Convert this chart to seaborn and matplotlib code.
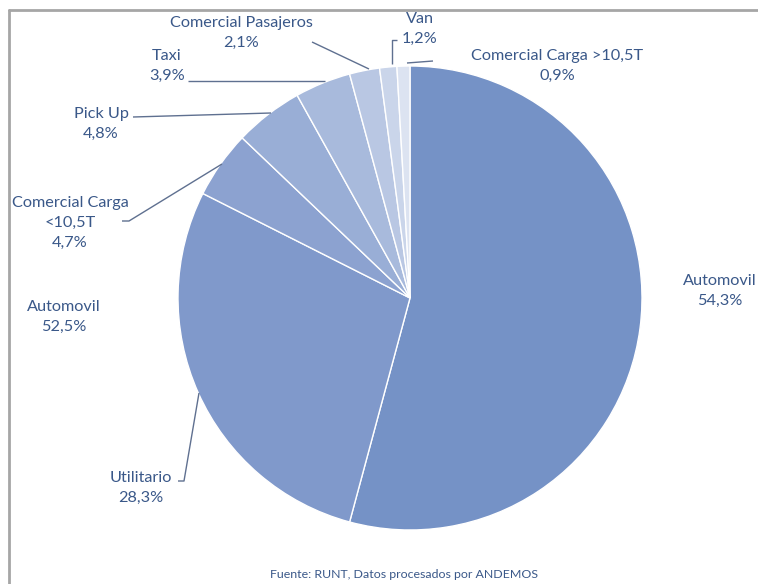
import matplotlib
matplotlib.use("Agg")
import matplotlib.pyplot as plt
import seaborn as sns

sns.set_theme(style="white")
plt.rcParams['font.family'] = ['Lato', 'DejaVu Sans']

# Data (clockwise from top)
categories = ["Automovil", "Utilitario", "Comercial Carga\n<10,5T", "Pick Up", "Taxi",
              "Comercial Pasajeros", "Van", "Comercial Carga >10,5T"]
shares = [54.3, 28.3, 4.7, 4.8, 3.9, 2.1, 1.2, 0.9]
share_labels = ["54,3%", "28,3%", "4,7%", "4,8%", "3,9%", "2,1%", "1,2%", "0,9%"]
colors = ["#7592C6", "#8099CB", "#8CA2D0", "#99AED6", "#A8BADC", "#B9C7E3", "#CAD5EA", "#DCE3F1"]
extra_label = "Automovil\n52,5%"
source_text = "Fuente: RUNT, Datos procesados por ANDEMOS"

W, H = 758, 584
fig = plt.figure(figsize=(W / 100, H / 100), dpi=100)
ax = fig.add_axes([0, 0, 1, 1])
ax.set_xlim(0, W)
ax.set_ylim(0, H)
ax.axis("off")

def Y(y):
    return H - y

ax.pie(shares, colors=colors, startangle=90, counterclock=False,
       center=(410, Y(298)), radius=232,
       wedgeprops=dict(edgecolor="white", linewidth=1.0), frame=False)
ax.set_xlim(0, W)
ax.set_ylim(0, H)
ax.set_aspect("auto")

tc = "#3A5889"
lc = "#5F7090"
fs = 11.7
ls = 1.55

# label positions (pixel coords, centre of text block)
pos = {
    0: (720, 291),
    1: (141, 488),
    2: (70, 223),
    3: (101, 124),
    4: (167, 66),
    5: (241, 33),
    6: (420, 29),
    7: (557, 66),
}
for i, (x, y) in pos.items():
    ax.text(x, Y(y), f"{categories[i]}\n{share_labels[i]}", ha="center", va="center",
            fontsize=fs, color=tc, linespacing=ls)

ax.text(64, Y(317), extra_label, ha="center", va="center", fontsize=fs, color=tc, linespacing=ls)

# leader lines
leaders = [
    [(312, 42), (369, 69)],
    [(188, 81), (325, 81)],
    [(133, 117), (271, 113)],
    [(122, 221), (129, 221), (222, 164)],
    [(178, 481), (184, 481), (199, 393)],
    [(397, 40), (392, 40), (392, 64)],
    [(407, 63), (433, 61)],
]
for seg in leaders:
    ax.plot([p[0] for p in seg], [Y(p[1]) for p in seg], color=lc, lw=1.0, solid_capstyle="butt")

ax.text(404, Y(575), source_text, ha="center", va="center", fontsize=8.9, color=tc)

# border
ax.plot([9, 9], [Y(H), Y(10)], color="#A6A6A6", lw=2, clip_on=False)
ax.plot([9, W], [Y(10), Y(10)], color="#A6A6A6", lw=2, clip_on=False)

fig.savefig("out.png", dpi=100)
